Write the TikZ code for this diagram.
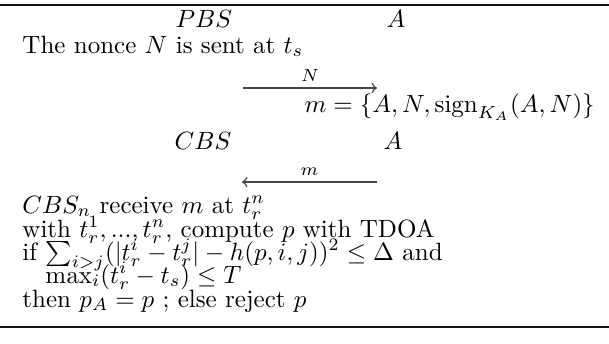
\documentclass[tikz,border=0pt]{standalone}
\usepackage{amsmath}
\usepackage{amssymb}
\definecolor{ruleInk}{RGB}{20,20,20}
\definecolor{arrowInk}{RGB}{70,70,70}

\begin{document}
\begin{tikzpicture}[
  x=0.4pt,
  y=-0.4pt,
  tableRule/.style={draw=ruleInk, line width=0.75pt},
  actorLabel/.style={anchor=base, inner sep=0pt},
  stepText/.style={anchor=base west, inner sep=0pt},
  msgArrow/.style={draw=arrowInk, line width=0.6pt, ->},
  msgLabel/.style={font=\scriptsize, inner sep=2.5pt, above=0pt}
]
  \useasboundingbox (0,0) rectangle (609,343);

  % rules of the table
  \coordinate (topL) at (0,5);
  \coordinate (topR) at (609,5);
  \coordinate (botL) at (0,327);
  \coordinate (botR) at (609,327);
  \path[tableRule] (topL) -- (topR);
  \path[tableRule] (botL) -- (botR);

  % first exchange
  \node[actorLabel] (pbs) at (204,27) {$PBS$};
  \node[actorLabel] (aTop) at (396,27) {$A$};
  \node[stepText] (nonce) at (22,53) {The nonce $N$ is sent at $t_s$};

  \coordinate (sendL) at (243,88);
  \coordinate (sendR) at (377,88);
  \path[msgArrow] (sendL) -- node[msgLabel] (sendLbl) {$N$} (sendR);

  \node[stepText] (msgDef) at (304,112)
    {$m=\{A,N,\operatorname{sign}_{K_A}(A,N)\}$};

  % second exchange
  \node[actorLabel] (cbs) at (203,149) {$CBS$};
  \node[actorLabel] (aMid) at (393,149) {$A$};

  \coordinate (backR) at (377,182);
  \coordinate (backL) at (242,182);
  \path[msgArrow] (backR) -- node[msgLabel] (backLbl) {$m$} (backL);

  % checks at the base stations
  \node[stepText] (recv) at (22,213) {$CBS_n$ receive $m$ at $t_r^n$};
  \node[stepText] (tdoa) at (22,237) {with $t_r^1,...,t_r^n$, compute $p$ with TDOA};
  \node[stepText] (cond) at (22,260)
    {if $\sum_{i>j}(|t_r^i-t_r^j|-h(p,i,j))^2\leq\Delta$ and};
  \node[stepText] (delay) at (45,283) {$\max_i(t_r^i-t_s)\leq T$};
  \node[stepText] (decide) at (22,307) {then $p_A=p$ ; else reject $p$};
\end{tikzpicture}
\end{document}
